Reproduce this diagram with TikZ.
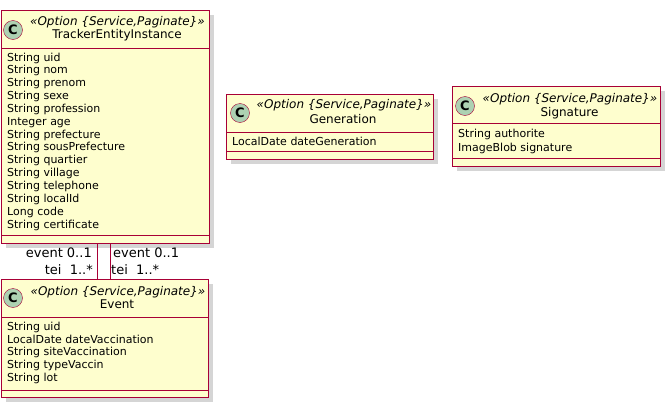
\documentclass[tikz,border=0pt]{standalone}
\usepackage{fontspec}
\setmainfont{DejaVu Sans}[ItalicFont={DejaVu Sans Oblique},BoldFont={DejaVu Sans Bold}]
\usetikzlibrary{shadows}
\definecolor{umlfill}{HTML}{FEFECE}
\definecolor{umlline}{HTML}{A80036}
\definecolor{umlmark}{HTML}{ADD1B2}

\begin{document}
\begin{tikzpicture}[x=1pt,y=-1pt,
	classbox/.style={draw=umlline,fill=umlfill,line width=1.2pt,inner sep=0pt,anchor=north west,
		drop shadow={shadow xshift=4pt,shadow yshift=-4pt,fill=black!33}},
	classmark/.style={draw=umlline,fill=umlmark,circle,minimum size=19pt,inner sep=0pt,
		font=\bfseries\fontsize{13}{13}\selectfont},
	stereo/.style={font=\itshape\fontsize{12}{12}\selectfont,inner sep=0pt},
	cname/.style={font=\fontsize{12}{12}\selectfont,inner sep=0pt},
	attr/.style={font=\fontsize{11}{11}\selectfont,inner sep=0pt,anchor=west},
	rolelabel/.style={font=\fontsize{13}{13}\selectfont,inner sep=0pt}]
	\useasboundingbox (0,0) rectangle (670,407);

	% TrackerEntityInstance
	\node[classbox,minimum width=208,minimum height=233] (tei) at (1,10) {};
	\draw[umlline] (1,48) -- (209,48);
	\draw[umlline] (1,235) -- (209,235);
	\node[classmark] (teimark) at (13,30) {C};
	\node[stereo] (teistereo) at (117.5,22) {«Option \{Service,Paginate\}»};
	\node[cname] (teiname) at (117,35) {TrackerEntityInstance};
	\foreach \t [count=\i from 0] in {String uid,String nom,String prenom,String sexe,
		String profession,Integer age,String prefecture,String sousPrefecture,
		String quartier,String village,String telephone,String localId,Long code,
		String certificate}
		\node[attr] at (7,58+12.85*\i) {\t};

	% Generation
	\node[classbox,minimum width=207,minimum height=65] (gen) at (226,94) {};
	\draw[umlline] (226,132) -- (433,132);
	\draw[umlline] (226,151) -- (433,151);
	\node[classmark] (genmark) at (240,113) {C};
	\node[stereo] (genstereo) at (344,105) {«Option \{Service,Paginate\}»};
	\node[cname] (genname) at (343,119) {Generation};
	\node[attr] at (232,141) {LocalDate dateGeneration};

	% Signature
	\node[classbox,minimum width=208,minimum height=80] (sig) at (452,86) {};
	\draw[umlline] (452,123) -- (660,123);
	\draw[umlline] (452,158) -- (660,158);
	\node[classmark] (sigmark) at (465,106) {C};
	\node[stereo] (sigstereo) at (570,99) {«Option \{Service,Paginate\}»};
	\node[cname] (signame) at (569.5,113) {Signature};
	\node[attr] at (458,134) {String authorite};
	\node[attr] at (458,148) {ImageBlob signature};

	% Event
	\node[classbox,minimum width=207,minimum height=118] (event) at (1,279) {};
	\draw[umlline] (1,317) -- (208,317);
	\draw[umlline] (1,390) -- (208,390);
	\node[classmark] (eventmark) at (13,298) {C};
	\node[stereo] (eventstereo) at (118,292) {«Option \{Service,Paginate\}»};
	\node[cname] (eventname) at (117,304) {Event};
	\foreach \t [count=\i from 0] in {String uid,LocalDate dateVaccination,
		String siteVaccination,String typeVaccin,String lot}
		\node[attr] at (7,327+12.85*\i) {\t};

	% associations
	\coordinate (linka) at (97,0);
	\coordinate (linkb) at (110,0);
	\draw[umlline] (tei.south -| linka) -- (event.north -| linka);
	\draw[umlline] (tei.south -| linkb) -- (event.north -| linkb);
	\node[rolelabel,anchor=east] (roleae) at (92,253) {event 0..1};
	\node[rolelabel,anchor=east] (roleat) at (93,270) {tei\ \ 1..*};
	\node[rolelabel,anchor=west] (rolebe) at (113,253) {event 0..1};
	\node[rolelabel,anchor=west] (rolebt) at (111,270) {tei\ \ 1..*};
\end{tikzpicture}
\end{document}
